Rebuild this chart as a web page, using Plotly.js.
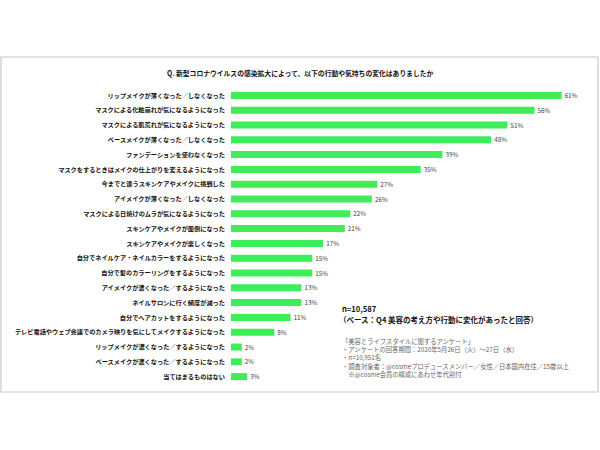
<!DOCTYPE html>
<html><head><meta charset="utf-8">
<script src="https://cdn.plot.ly/plotly-3.0.1.min.js"></script>
<style>html,body{margin:0;padding:0;background:#fff}</style>
</head><body><div id="chart" style="width:600px;height:450px"></div>
<script>
const categories = [
  "リップメイクが薄くなった／しなくなった",
  "マスクによる化粧崩れが気になるようになった",
  "マスクによる肌荒れが気になるようになった",
  "ベースメイクが薄くなった／しなくなった",
  "ファンデーションを使わなくなった",
  "マスクをするときはメイクの仕上がりを変えるようになった",
  "今までと違うスキンケアやメイクに挑戦した",
  "アイメイクが薄くなった／しなくなった",
  "マスクによる日焼けのムラが気になるようになった",
  "スキンケアやメイクが面倒になった",
  "スキンケアやメイクが楽しくなった",
  "自分でネイルケア・ネイルカラーをするようになった",
  "自分で髪のカラーリングをするようになった",
  "アイメイクが濃くなった／するようになった",
  "ネイルサロンに行く頻度が減った",
  "自分でヘアカットをするようになった",
  "テレビ電話やウェブ会議でのカメラ映りを気にしてメイクするようになった",
  "リップメイクが濃くなった／するようになった",
  "ベースメイクが濃くなった／するようになった",
  "当てはまるものはない"
];
const values = [61, 56, 51, 48, 39, 35, 27, 26, 22, 21, 17, 15, 15, 13, 13, 11, 8, 2, 2, 3];
const valueLabels = values.map(v => v + "%");
const titleText = "Q. 新型コロナウイルスの感染拡大によって、以下の行動や気持ちの変化はありましたか";
const baseText1 = "n=10,587";
const baseText2 = "（ベース：Q4 美容の考え方や行動に変化があったと回答）";
const noteLines = [
  "「美容とライフスタイルに関するアンケート」",
  "・アンケートの回答期間：2020年5月26日（火）～27日（水）",
  "・n=10,951名",
  "・調査対象者：@cosmeプロデュースメンバー／女性／日本国内在住／15歳以上",
  "　※@cosme会員の構成にあわせ年代割付"
];

const FONT = "Noto Sans CJK JP, Noto Sans, sans-serif";
const W = 600, H = 450;
const mL = 231, mR = 17, mT = 88, mB = 66;
const pw = W - mL - mR, ph = H - mT - mB;
const px = x => (x - mL) / pw;
const py = y => (H - mB - y) / ph;

const trace = {
  type: "bar",
  orientation: "h",
  x: values,
  y: categories,
  text: valueLabels,
  textposition: "outside",
  constraintext: "none",
  cliponaxis: false,
  textfont: {family: FONT, size: 6.3, color: "#444"},
  marker: {color: "#3ded5a", line: {width: 0}},
  hoverinfo: "none"
};

const annotations = [
  {text: titleText, x: px(300), y: py(73), xref: "paper", yref: "paper", showarrow: false,
   xanchor: "center", yanchor: "middle", font: {family: FONT, size: 6.8, color: "#111", weight: "bold"}},
  {text: baseText1, x: px(340), y: py(308), xref: "paper", yref: "paper", showarrow: false,
   xanchor: "left", yanchor: "middle", font: {family: FONT, size: 7.6, color: "#111", weight: "bold"}},
  {text: baseText2, x: px(337), y: py(319), xref: "paper", yref: "paper", showarrow: false,
   xanchor: "left", yanchor: "middle", font: {family: FONT, size: 7.5, color: "#111", weight: "bold"}},
  {text: noteLines.join("<br>"), x: px(340), y: py(357.5), xref: "paper", yref: "paper", showarrow: false,
   xanchor: "left", yanchor: "middle", align: "left", font: {family: FONT, size: 6.3, color: "#666"}}
];

const layout = {
  width: W, height: H,
  margin: {l: mL, r: mR, t: mT, b: mB, pad: 0},
  paper_bgcolor: "#fff", plot_bgcolor: "#fff",
  showlegend: false,
  bargap: 0.53,
  xaxis: {range: [0, pw / 5.42], visible: false, fixedrange: true},
  yaxis: {autorange: "reversed", type: "category", showgrid: false, zeroline: false, showline: false,
          ticks: "", ticklabelstandoff: 5,
          tickfont: {family: FONT, size: 6.2, color: "#111", weight: "bold"}},
  annotations: annotations,
  shapes: [{type: "rect", xref: "paper", yref: "paper", x0: px(1), x1: px(598), y0: py(57), y1: py(392),
            line: {color: "#c8c8c8", width: 1.2}, fillcolor: "rgba(0,0,0,0)", layer: "below"}]
};

Plotly.newPlot("chart", [trace], layout, {staticPlot: true, displayModeBar: false});
</script></body></html>
